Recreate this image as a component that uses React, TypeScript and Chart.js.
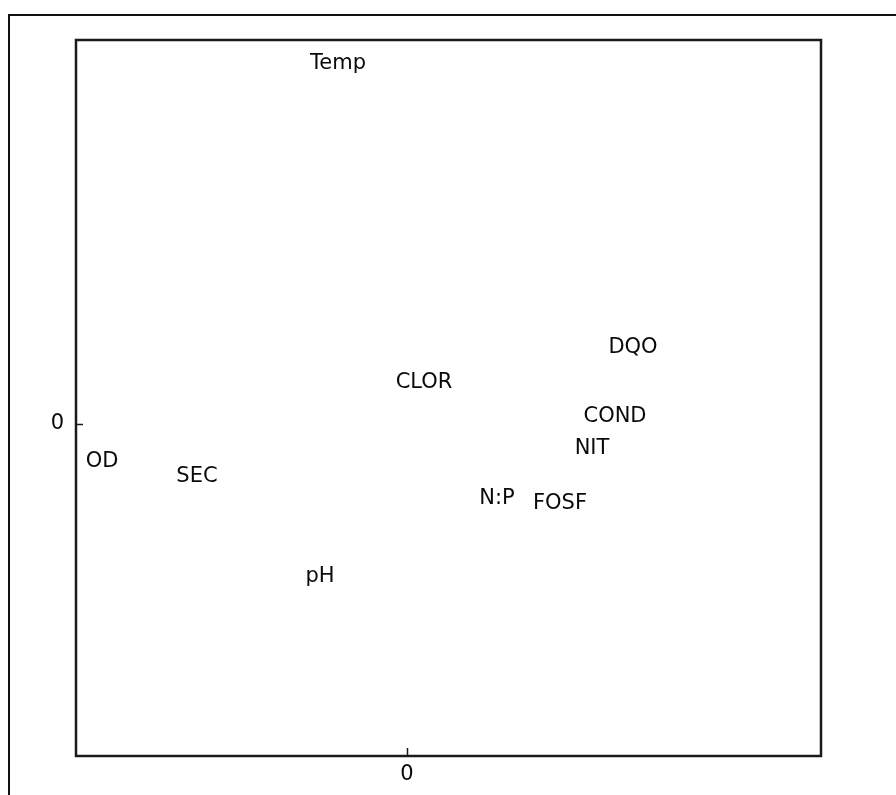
import React, { useEffect, useRef } from 'react';
import { Chart, registerables } from 'chart.js';

Chart.register(...registerables);

const variableNames = ['Temp', 'DQO', 'CLOR', 'COND', 'NIT', 'OD', 'SEC', 'N:P', 'FOSF', 'pH'];
const axis1Scores = [-0.69, 2.26, 0.17, 2.08, 1.85, -3.05, -2.1, 0.9, 1.53, -0.87];
const axis2Scores = [3.62, 0.78, 0.43, 0.09, -0.23, -0.36, -0.51, -0.73, -0.78, -1.51];
const axisTickValues = [0];
const axis1Range = [-3.31, 4.14];
const axis2Range = [-3.32, 3.84];

const FONT_FAMILY = '"DejaVu Sans", sans-serif';
const INK = '#0a0a0a';

const labelPlugin = {
  id: 'varLabels',
  afterDatasetsDraw(chart: any) {
    const ctx = chart.ctx;
    const meta = chart.getDatasetMeta(0);
    ctx.save();
    ctx.font = `21px ${FONT_FAMILY}`;
    ctx.fillStyle = INK;
    ctx.textAlign = 'center';
    ctx.textBaseline = 'middle';
    meta.data.forEach((pt: any, i: number) => {
      ctx.fillText(variableNames[i], pt.x, pt.y + 2);
    });
    const { left, right, top, bottom } = chart.chartArea;
    ctx.strokeStyle = '#1a1a1a';
    ctx.lineWidth = 2.5;
    ctx.strokeRect(left, top, right - left, bottom - top);
    ctx.lineWidth = 1.5;
    const xs = chart.scales.x;
    xs.ticks.forEach((t: any) => {
      const px = Math.round(xs.getPixelForValue(t.value)) + 0.5;
      ctx.beginPath();
      ctx.moveTo(px, bottom);
      ctx.lineTo(px, bottom - 8);
      ctx.stroke();
    });
    const ys = chart.scales.y;
    ys.ticks.forEach((t: any) => {
      const py = Math.round(ys.getPixelForValue(t.value)) + 0.5;
      ctx.beginPath();
      ctx.moveTo(left, py);
      ctx.lineTo(left + 7, py);
      ctx.stroke();
    });
    ctx.restore();
  },
};

export default function App() {
  const canvasRef = useRef<HTMLCanvasElement | null>(null);

  useEffect(() => {
    if (!canvasRef.current) return;
    const points = variableNames.map((_, i) => ({ x: axis1Scores[i], y: axis2Scores[i] }));
    const chart = new Chart(canvasRef.current, {
      type: 'scatter',
      data: {
        datasets: [
          {
            data: points,
            pointRadius: 0,
            pointHoverRadius: 0,
            showLine: false,
          },
        ],
      },
      plugins: [labelPlugin],
      options: {
        animation: false,
        responsive: false,
        devicePixelRatio: 1,
        events: [],
        layout: { padding: { left: 0, top: 40, right: 75, bottom: 0 } },
        plugins: { legend: { display: false }, tooltip: { enabled: false } },
        scales: {
          x: {
            type: 'linear',
            min: axis1Range[0],
            max: axis1Range[1],
            grid: { display: false, drawTicks: false },
            border: { display: false },
            afterBuildTicks: (s: any) => {
              s.ticks = axisTickValues.map((v) => ({ value: v }));
            },
            afterFit: (s: any) => {
              s.height = 39;
            },
            ticks: {
              color: INK,
              padding: 6,
              autoSkip: false,
              maxRotation: 0,
              font: { family: FONT_FAMILY, size: 21 },
              callback: (v: any) => String(v),
            },
          },
          y: {
            type: 'linear',
            min: axis2Range[0],
            max: axis2Range[1],
            grid: { display: false, drawTicks: false },
            border: { display: false },
            afterBuildTicks: (s: any) => {
              s.ticks = axisTickValues.map((v) => ({ value: v }));
            },
            afterFit: (s: any) => {
              s.width = 76;
            },
            ticks: {
              color: INK,
              padding: 12,
              autoSkip: false,
              font: { family: FONT_FAMILY, size: 21 },
              callback: (v: any) => String(v),
            },
          },
        },
      },
    });
    return () => chart.destroy();
  }, []);

  return (
    <div>
      <div
        style={{
          position: 'fixed',
          left: 8,
          top: 14,
          width: 900,
          height: 800,
          borderTop: '2px solid #111',
          borderLeft: '2px solid #111',
          boxSizing: 'border-box',
        }}
      />
      <canvas
        ref={canvasRef}
        width={896}
        height={795}
        style={{ position: 'fixed', left: 0, top: 0, width: 896, height: 795 }}
      />
    </div>
  );
}
